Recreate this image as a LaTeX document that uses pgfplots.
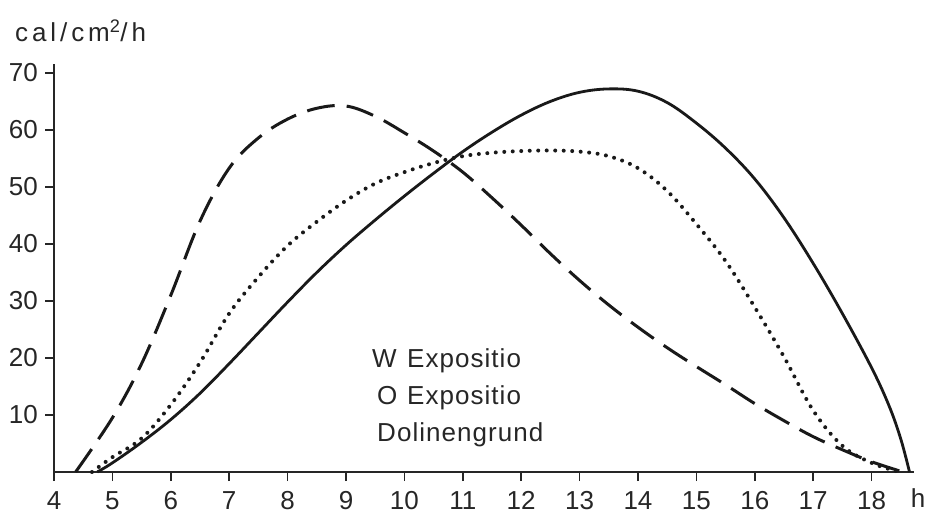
\documentclass[border=0pt]{standalone}
\usepackage{pgfplots}
\pgfplotsset{compat=1.18}
\usepackage{fontspec}
\setmainfont{Liberation Sans}
\newfontfamily\lsfont{Liberation Sans}[LetterSpace=15]
\newfontfamily\lgfont{Liberation Sans}[LetterSpace=4]
\begin{document}
\begin{tikzpicture}
\begin{axis}[
  at={(0pt,0pt)}, anchor=south west,
  scale only axis,
  width=859.6pt, height=407.6pt,
  xmin=4, xmax=18.72, ymin=0, ymax=71.5,
  axis lines=left,
  axis line style={-, line width=1.6pt, color=black!85},
  xtick={4,5,...,18}, ytick={10,20,...,70},
  tick align=outside,
  major tick length=9pt,
  tick style={line width=1.5pt, color=black!85},
  ticklabel style={font=\fontsize{26}{30}\selectfont, text=black!85},
  /pgf/number format/assume math mode=true,
  xticklabel style={anchor=north, inner sep=0pt, yshift=-10pt},
  yticklabel style={anchor=east, inner sep=0pt, xshift=-7pt},
  clip=false,
]
% W Expositio (solid)
\addplot[black!90, line width=2.8pt, smooth, tension=0.6] coordinates {
(4.74,0) (5.0,1.6) (5.5,5.2) (6.0,9.2) (6.5,13.8) (7.0,19.0) (7.5,24.4)
(8.0,29.8) (8.5,35.0) (9.0,39.8) (9.5,44.2) (10.0,48.4) (10.5,52.4)
(11.0,56.2) (11.5,59.6) (12.0,62.6) (12.5,65.0) (13.0,66.6) (13.5,67.2)
(14.0,66.8) (14.5,64.8) (15.0,61.2) (15.5,56.8) (16.0,51.4) (16.5,44.6)
(17.0,36.6) (17.5,27.8) (18.0,18.3) (18.3,11.6) (18.5,5.8) (18.65,0)
};
% O Expositio (dashed)
\addplot[black!90, line width=3pt, smooth, tension=0.6, dash pattern=on 28pt off 12pt] coordinates {
(4.37,0) (5.0,9.5) (5.5,19.0) (6.0,31.0) (6.5,44.0) (7.0,53.3) (7.5,58.6)
(8.0,61.9) (8.5,63.8) (9.0,64.2) (9.5,62.4) (10.0,59.5) (10.5,56.3)
(11.0,52.6) (11.5,48.1) (12.0,43.3) (12.5,38.3) (13.0,33.6) (13.5,29.3)
(14.0,25.4) (14.5,21.8) (15.0,18.5) (15.5,15.3) (16.0,12.0) (16.5,9.0)
(17.0,6.2) (17.5,3.9) (18.0,1.8) (18.54,0)
};
% Dolinengrund (dotted)
\addplot[black!90, line width=4pt, smooth, tension=0.6, line cap=round, dash pattern=on 0pt off 8.5pt] coordinates {
(4.65,0) (5.0,2.6) (5.5,5.9) (6.0,11.8) (6.5,19.2) (7.0,27.8) (7.5,34.2)
(8.0,39.7) (8.5,43.9) (9.0,47.6) (9.5,50.6) (10.0,52.6) (10.5,54.2)
(11.0,55.4) (11.5,56.0) (12.0,56.3) (12.5,56.4) (13.0,56.2) (13.5,55.4)
(14.0,53.3) (14.5,49.3) (15.0,43.5) (15.5,37.0) (16.0,28.9) (16.5,20.2)
(17.0,10.8) (17.5,4.6) (18.0,1.6) (18.48,0)
};
\end{axis}
\begin{scope}[every node/.style={inner sep=0pt, anchor=base west, text=black!85}]
\node[font=\lsfont\fontsize{26}{30}\selectfont] at (-39pt,430pt) {cal/cm\textsuperscript{2}/h};
\node[font=\fontsize{26}{30}\selectfont, anchor=base] at (864pt,-35pt) {h};
\node[font=\lgfont\fontsize{26}{30}\selectfont] at (318pt,104pt) {W};
\node[font=\lgfont\fontsize{26}{30}\selectfont] at (353pt,104pt) {Expositio};
\node[font=\lgfont\fontsize{26}{30}\selectfont] at (323pt,67pt) {O};
\node[font=\lgfont\fontsize{26}{30}\selectfont] at (353pt,67pt) {Expositio};
\node[font=\lgfont\fontsize{26}{30}\selectfont] at (323pt,30pt) {Dolinengrund};
\end{scope}
\pgfresetboundingbox
\path[use as bounding box] (-54pt,-41pt) rectangle (879pt,472pt);
\end{tikzpicture}
\end{document}
